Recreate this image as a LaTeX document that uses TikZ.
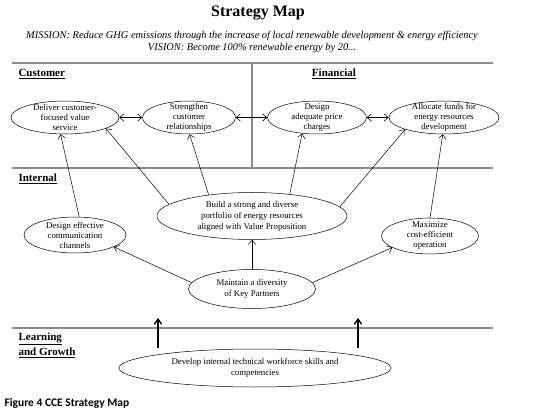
\documentclass[tikz,border=0pt]{standalone}
\usepackage{fontspec}
\setmainfont{Liberation Serif}
\newfontfamily\capfont{Carlito}
\usetikzlibrary{arrows.meta,shapes.geometric}
\definecolor{crule}{HTML}{8C8C8C}
\tikzset{
  goal/.style={ellipse, draw, line width=0.5pt, inner sep=-25pt, align=center,
               font=\fontsize{8.8}{10}\selectfont},
  sect/.style={anchor=west, align=left, font=\fontsize{11}{15}\selectfont\bfseries},
  rule/.style={draw=crule, line width=1.2pt},
  flow/.style={-{Straight Barb[length=1.5mm,width=2.6mm]}, line width=0.5pt},
  flowb/.style={{Straight Barb[length=1.5mm,width=2.6mm]}-{Straight Barb[length=1.5mm,width=2.6mm]}, line width=0.6pt},
  push/.style={-{Straight Barb[length=1.8mm,width=2.6mm]}, line width=1.3pt},
}
\begin{document}
\begin{tikzpicture}[x=1pt,y=-1pt]
  \useasboundingbox[fill=white] (0,0) rectangle (550,420);
  % heading
  \node[font=\fontsize{16}{18}\selectfont\bfseries] (title) at (258,13) {Strategy Map};
  \node[font=\fontsize{10.4}{12}\selectfont\itshape, align=center] (mission) at (252,42)
    {MISSION: Reduce GHG emissions through the increase of local renewable development \& energy efficiency\\
     VISION: Become 100\% renewable energy by 20...};
  % perspective rules
  \draw[rule] (12,63) -- (493,63);
  \draw[rule] (252,63) -- (252,168);
  \draw[rule] (12,168) -- (493,168);
  \draw[rule] (12,328) -- (493,328);
  \node[sect] (cust) at (15,74) {\underline{Customer}};
  \node[sect, anchor=center] (fin) at (334,74) {\underline{Financial}};
  \node[sect] (intl) at (15,179) {\underline{Internal}};
  \node[sect] (learn) at (15,345.5) {\underline{Learning}\\\underline{and Growth}};
  % customer + financial
  \node[goal, minimum width=108pt, minimum height=33pt] (deliver) at (65,117.5) {Deliver customer-\\focused value\\service};
  \node[goal, minimum width=93pt, minimum height=33pt] (strength) at (189,117.5) {Strengthen\\customer\\relationships};
  \node[goal, minimum width=99pt, minimum height=33pt] (price) at (317,117.5) {Design\\adequate price\\charges};
  \node[goal, minimum width=110pt, minimum height=33pt] (funds) at (444,117.5) {Allocate funds for\\energy resources\\development};
  \draw[flowb] (deliver) -- (strength);
  \draw[flowb] (strength) -- (price);
  \draw[flowb] (price) -- (funds);
  % internal
  \node[goal, minimum width=190pt, minimum height=47pt, font=\fontsize{8.8}{11}\selectfont] (build) at (252,216) {Build a strong and diverse\\portfolio of energy resources\\aligned with Value Proposition};
  \node[goal, minimum width=102pt, minimum height=36pt] (comm) at (75,235) {Design effective\\communication\\channels};
  \node[goal, minimum width=97pt, minimum height=36pt] (cost) at (430,236) {Maximize\\cost-efficient\\operation};
  \node[goal, minimum width=127pt, minimum height=39pt, font=\fontsize{8.8}{11}\selectfont] (partner) at (252,289) {Maintain a diversity\\of Key Partners};
  \draw[flow] (comm.77) -- (deliver.255);
  \draw[flow] (build.172) -- (deliver.-15);
  \draw[flow] (build.154) -- (strength.-88);
  \draw[flow] (build.30) -- (price.-133);
  \draw[flow] (build.6) -- (funds.197);
  \draw[flow] (cost.90) -- (funds.-94);
  \draw[flow] (partner) -- (build);
  \draw[flow] (partner.174) -- (comm.-17);
  \draw[flow] (partner.6) -- (cost.197);
  % learning and growth
  \node[goal, minimum width=272pt, minimum height=38pt, font=\fontsize{8.8}{11}\selectfont] (skills) at (255,368) {Develop internal technical workforce skills and\\competencies};
  \coordinate (l1) at (158,348); \coordinate (l1t) at (158,318);
  \coordinate (l2) at (358,348); \coordinate (l2t) at (358,318);
  \draw[push] (l1) -- (l1t);
  \draw[push] (l2) -- (l2t);
  \node[anchor=west, font=\capfont\bfseries\fontsize{11.5}{13}\selectfont] (cap) at (1,403) {Figure 4 CCE Strategy Map};
\end{tikzpicture}
\end{document}
